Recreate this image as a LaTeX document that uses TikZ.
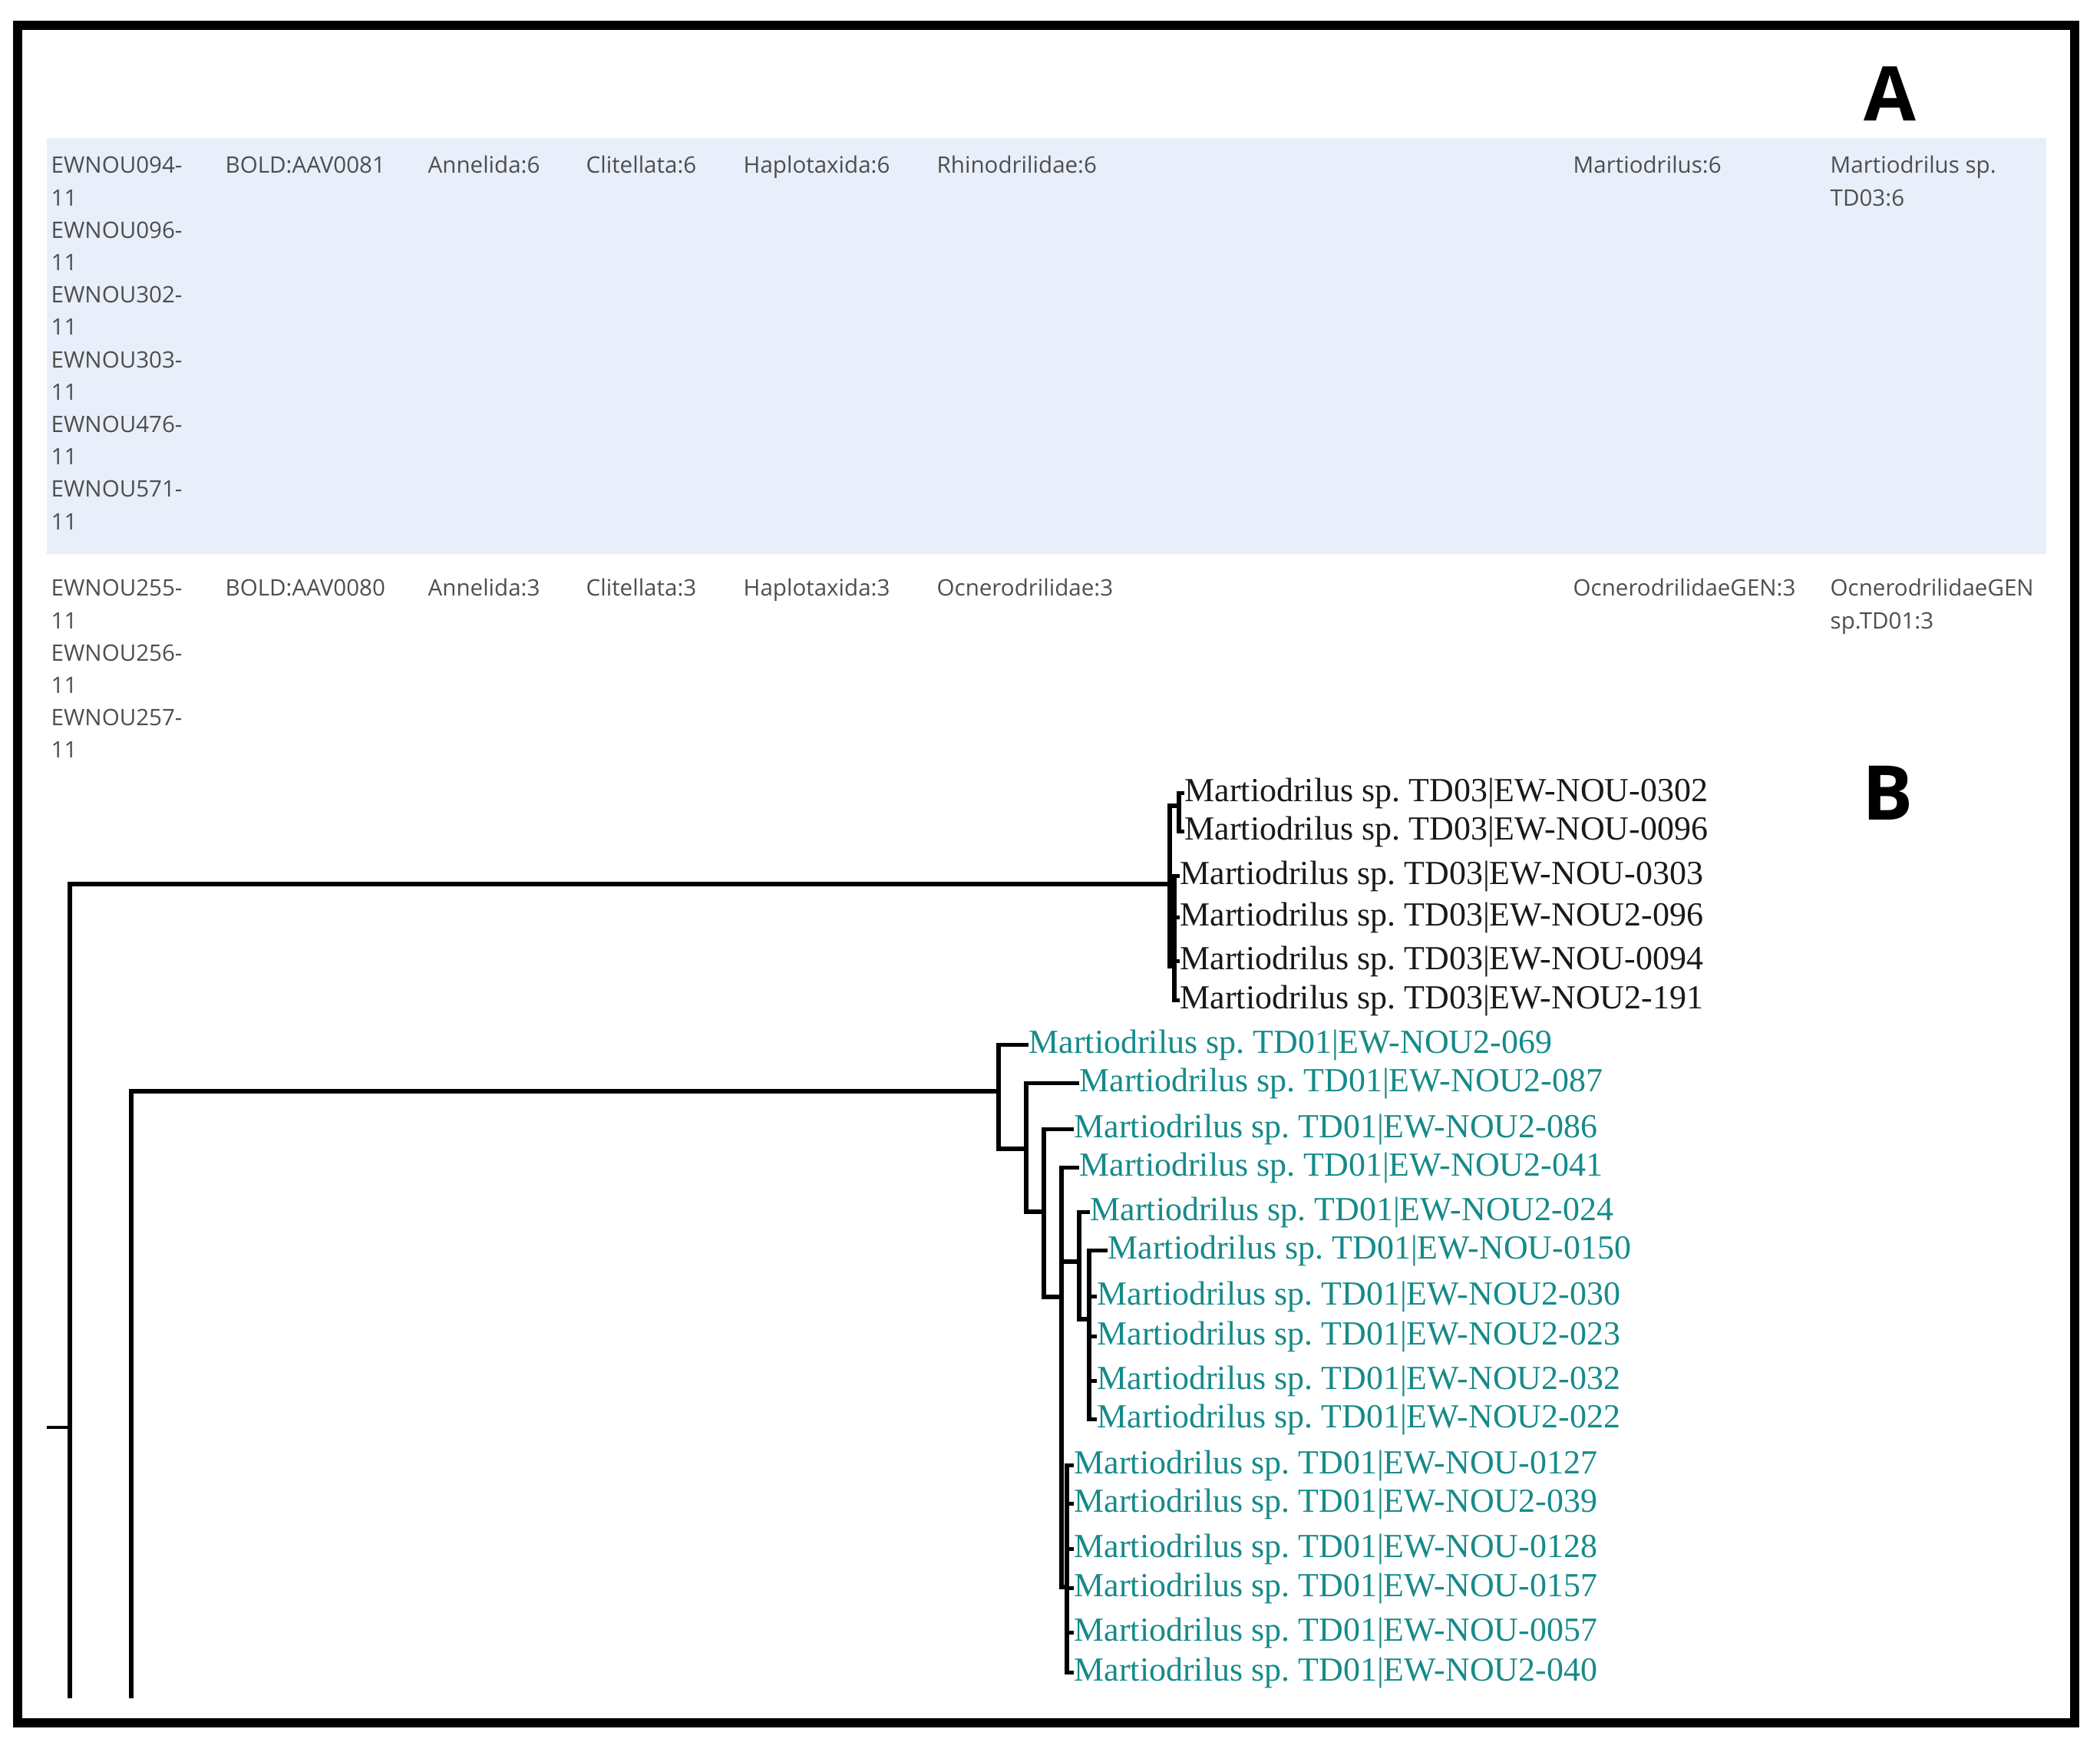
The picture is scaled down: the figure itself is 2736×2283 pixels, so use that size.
\documentclass[tikz,border=0pt]{standalone}
\usepackage{fontspec}
\setmainfont{Liberation Serif}
\newfontfamily\tabfont{Open Sans}
\usetikzlibrary{positioning,calc}
\definecolor{rowblue}{RGB}{232,239,250}
\definecolor{tabgray}{RGB}{78,78,78}
\definecolor{tdteal}{RGB}{22,138,138}
\frenchspacing

\begin{document}
\begin{tikzpicture}[x=0.01cm,y=-0.01cm,
tab/.style={anchor=base west,inner sep=0pt,text=tabgray,
  font=\tabfont\fontsize{8.4}{12}\selectfont},
leaf/.style={anchor=west,inner xsep=0pt,inner ysep=1pt,yshift=-1pt,
  font=\fontsize{12.5}{14}\selectfont},
leafa/.style={leaf,text=black!90},
leafb/.style={leaf,text=tdteal},
br/.style={line width=1.5pt},
panel/.style={font=\tabfont\bfseries\fontsize{28}{30}\selectfont}]
\useasboundingbox (0,0) rectangle (2736,2283);
% table (A)
\fill[rowblue] (61,180) rectangle (2666,722);
\foreach \id [count=\i from 0] in {094,096,302,303,476,571}
{\node[tab] (pa\i) at (66,226+84.4*\i) {EWNOU\id-};
 \node[tab] (pb\i) at (66,268.2+84.4*\i) {11};}
\foreach \id [count=\i from 0] in {255,256,257}
{\node[tab] (qa\i) at (66,777+84.4*\i) {EWNOU\id-};
 \node[tab] (qb\i) at (66,819.2+84.4*\i) {11};}
\foreach \x/\t [count=\j] in {293/BOLD:AAV0081,557/Annelida:6,763/Clitellata:6,
  968/Haplotaxida:6,1220/Rhinodrilidae:6,2049/Martiodrilus:6,2384/Martiodrilus sp.}
  \node[tab] (ra\j) at (\x,226) {\t};
\node[tab] (ra8) at (2384,268.2) {TD03:6};
\foreach \x/\t [count=\j] in {293/BOLD:AAV0080,557/Annelida:3,763/Clitellata:3,
  968/Haplotaxida:3,1220/Ocnerodrilidae:3,2049/OcnerodrilidaeGEN:3,2384/OcnerodrilidaeGEN}
  \node[tab] (rb\j) at (\x,777) {\t};
\node[tab] (rb8) at (2384,819.2) {sp.TD01:3};
\node[panel] (pA) at (2462,122) {A};
% tree (B)
\node[panel] (pB) at (2460,1033) {B};
\coordinate (stem) at (61,1860);
\coordinate (root) at (91,1860);
\coordinate (rcut) at (91,2213);
\coordinate (scut) at (171,2213);
\coordinate (ta) at (1524,1152);
\coordinate (tb) at (1536,1050);
\coordinate (tc) at (1530,1259);
\coordinate (m1) at (1301,1422);
\coordinate (m2) at (1337,1497);
\coordinate (m3) at (1360,1579);
\coordinate (m4) at (1383,1690);
\coordinate (m5) at (1406,1644);
\coordinate (m6) at (1419,1719);
\coordinate (m7) at (1390,2068);
\draw[line width=0.9pt] (stem) -- (root);
\draw[br] (rcut) -- (root) |- (ta);
\draw[br] (ta) |- (tb);
\draw[br] (ta) |- (tc);
\draw[br] (scut) |- (m1);
\draw[br] (m1) |- (m2);
\draw[br] (m2) |- (m3);
\draw[br] (m3) |- (m4);
\draw[br] (m4) |- (m5);
\draw[br] (m5) |- (m6);
\draw[br] (m4) |- (m7);
\foreach \n/\y/\x/\p [count=\k] in {NOU-0302/1030/1543/tb,NOU-0096/1080/1543/tb,
  NOU-0303/1138/1537/tc,NOU2-096/1192/1537/tc,NOU-0094/1249/1537/tc,NOU2-191/1300/1537/tc}
{\node[leafa] (a\k) at (\x,\y) {Martiodrilus sp. TD03|EW-\n};
 \draw[br] (\p) |- (a\k.west);}
\foreach \n/\y/\x/\p [count=\k] in {NOU2-069/1358/1340/m1,NOU2-087/1408/1406/m2,
  NOU2-086/1468/1399/m3,NOU2-041/1518/1406/m4,NOU2-024/1576/1420/m5,
  NOU-0150/1626/1443/m6,NOU2-030/1686/1429/m6,NOU2-023/1738/1429/m6,
  NOU2-032/1796/1429/m6,NOU2-022/1846/1429/m6,NOU-0127/1906/1399/m7,
  NOU2-039/1956/1399/m7,NOU-0128/2015/1399/m7,NOU-0157/2066/1399/m7,
  NOU-0057/2124/1399/m7,NOU2-040/2176/1399/m7}
{\node[leafb] (b\k) at (\x,\y) {Martiodrilus sp. TD01|EW-\n};
 \draw[br] (\p) |- (b\k.west);}
% frame
\draw[line width=3.4pt] (23,33) rectangle (2703,2245);
\end{tikzpicture}
\end{document}
